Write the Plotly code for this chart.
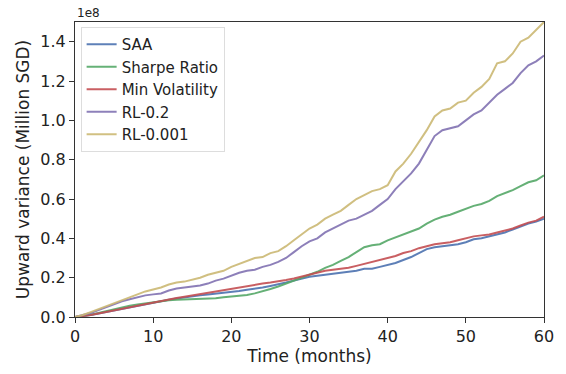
import plotly.graph_objects as go

# Months 0..60
months = list(range(61))

# Upward variance, in units of 1e8
saa = [0, 0.004, 0.01, 0.018, 0.026, 0.034, 0.042, 0.05, 0.058, 0.067, 0.075,
       0.082, 0.088, 0.094, 0.1, 0.105, 0.11, 0.114, 0.118, 0.122, 0.126,
       0.132, 0.138, 0.143, 0.15, 0.158, 0.165, 0.175, 0.185, 0.195, 0.205,
       0.21, 0.215, 0.22, 0.225, 0.23, 0.235, 0.245, 0.245, 0.255, 0.265,
       0.275, 0.29, 0.305, 0.325, 0.345, 0.355, 0.36, 0.365, 0.37, 0.38,
       0.395, 0.40, 0.41, 0.42, 0.43, 0.445, 0.46, 0.475, 0.485, 0.50]
sharpe = [0, 0.005, 0.012, 0.02, 0.03, 0.04, 0.05, 0.057, 0.064, 0.07, 0.075,
          0.08, 0.085, 0.088, 0.089, 0.09, 0.09, 0.092, 0.095, 0.1, 0.104,
          0.108, 0.112, 0.12, 0.13, 0.142, 0.155, 0.17, 0.185, 0.2, 0.215,
          0.23, 0.25, 0.265, 0.285, 0.305, 0.33, 0.355, 0.365, 0.37, 0.39,
          0.405, 0.42, 0.435, 0.45, 0.475, 0.495, 0.51, 0.52, 0.535, 0.55,
          0.565, 0.575, 0.59, 0.615, 0.63, 0.645, 0.665, 0.685, 0.695, 0.72]
minvol = [0, 0.004, 0.01, 0.018, 0.026, 0.034, 0.042, 0.05, 0.058, 0.067, 0.075,
          0.082, 0.09, 0.097, 0.103, 0.11, 0.117, 0.124, 0.131, 0.138, 0.145,
          0.152, 0.158, 0.164, 0.17, 0.175, 0.18, 0.188, 0.196, 0.205, 0.215,
          0.225, 0.235, 0.24, 0.245, 0.25, 0.26, 0.27, 0.28, 0.29, 0.30,
          0.31, 0.325, 0.335, 0.35, 0.36, 0.37, 0.375, 0.38, 0.39, 0.40,
          0.41, 0.415, 0.42, 0.43, 0.44, 0.45, 0.465, 0.48, 0.49, 0.51]
rl02 = [0, 0.01, 0.02, 0.035, 0.05, 0.065, 0.08, 0.09, 0.10, 0.11, 0.115,
        0.12, 0.135, 0.145, 0.15, 0.155, 0.16, 0.17, 0.185, 0.195, 0.21,
        0.225, 0.235, 0.24, 0.255, 0.265, 0.28, 0.30, 0.33, 0.36, 0.385,
        0.40, 0.43, 0.45, 0.47, 0.49, 0.50, 0.52, 0.54, 0.57, 0.60,
        0.65, 0.69, 0.73, 0.78, 0.85, 0.92, 0.95, 0.96, 0.97, 1.00,
        1.03, 1.05, 1.09, 1.13, 1.16, 1.19, 1.24, 1.28, 1.30, 1.33]
rl0001 = [0, 0.01, 0.025, 0.04, 0.055, 0.07, 0.085, 0.10, 0.115, 0.13, 0.14,
          0.15, 0.165, 0.175, 0.18, 0.19, 0.20, 0.215, 0.225, 0.235, 0.255,
          0.27, 0.285, 0.30, 0.305, 0.325, 0.335, 0.36, 0.39, 0.42, 0.45,
          0.47, 0.50, 0.52, 0.54, 0.57, 0.60, 0.62, 0.64, 0.65, 0.67,
          0.74, 0.78, 0.83, 0.89, 0.95, 1.02, 1.05, 1.06, 1.09, 1.10,
          1.14, 1.17, 1.21, 1.29, 1.30, 1.34, 1.40, 1.42, 1.46, 1.50]

series = [
    ("SAA", saa, "#4C72B0"),
    ("Sharpe Ratio", sharpe, "#55A868"),
    ("Min Volatility", minvol, "#C44E52"),
    ("RL-0.2", rl02, "#8172B2"),
    ("RL-0.001", rl0001, "#CCB974"),
]

scale = 1e8
y_ticks = [0.0, 0.2, 0.4, 0.6, 0.8, 1.0, 1.2, 1.4]
x_ticks = [0, 10, 20, 30, 40, 50, 60]

fig = go.Figure()
for name, vals, color in series:
    fig.add_trace(go.Scatter(
        x=months, y=[v * scale for v in vals], mode="lines", name=name,
        line=dict(color=color, width=2), opacity=0.9,
    ))

axis_common = dict(
    showgrid=False, zeroline=False, showline=True, linecolor="#333333",
    linewidth=1.2, mirror=True, ticks="outside", ticklen=5, tickwidth=1.2,
    tickcolor="#333333", tickfont=dict(size=16, color="#222222"),
)

fig.update_layout(
    width=566, height=374,
    margin=dict(l=75, r=16, t=22, b=54),
    paper_bgcolor="white", plot_bgcolor="white",
    font=dict(family="DejaVu Sans", color="#222222"),
    xaxis=dict(range=[0, 60], tickvals=x_ticks,
               title=dict(text="Time (months)", font=dict(size=17), standoff=4),
               **axis_common),
    yaxis=dict(range=[0, 1.5 * scale], tickvals=[t * scale for t in y_ticks],
               ticktext=[f"{t:.1f}" for t in y_ticks],
               title=dict(text="Upward variance (Million SGD)", font=dict(size=17), standoff=6),
               **axis_common),
    legend=dict(x=0.012, y=0.983, xanchor="left", yanchor="top",
                bgcolor="rgba(255,255,255,0.85)", bordercolor="#dddddd", borderwidth=1,
                font=dict(size=15), tracegroupgap=0, itemwidth=30),
    showlegend=True,
)

fig.add_annotation(text="1e8", xref="paper", yref="paper", x=0, y=1,
                   xanchor="left", yanchor="bottom", showarrow=False,
                   font=dict(size=12, color="#222222"), yshift=0)

fig.write_html("out.html")
